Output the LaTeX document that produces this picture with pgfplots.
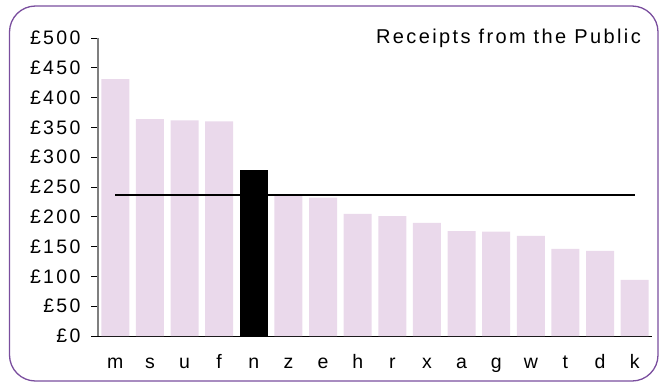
\documentclass[border=0pt]{standalone}
\usepackage{pgfplots}
\pgfplotsset{compat=1.18}
\usepackage{fontspec}
\setmainfont{Liberation Sans}[LetterSpace=12]
\definecolor{barpink}{HTML}{EAD9EB}
\definecolor{framepurple}{HTML}{7A4E9E}
\definecolor{axisgray}{HTML}{7F7F7F}

\begin{document}
\begin{tikzpicture}[x=1bp,y=1bp]
\useasboundingbox (0,0) rectangle (660,383);
\draw[framepurple, line width=1.3bp, rounded corners=26bp] (9.5,2) rectangle (658,377);
\node[anchor=base east, inner sep=0pt, font=\fontsize{20bp}{22bp}\selectfont] at (641,340) {Receipts from the Public};
\begin{axis}[
  at={(98bp,47bp)}, anchor=south west,
  scale only axis, width=554bp, height=298bp,
  xmin=-0.5, xmax=15.5, ymin=0, ymax=500,
  axis x line=bottom, axis y line=left,
  axis line style={-},
  x axis line style={black, line width=1bp},
  y axis line style={axisgray, line width=1.3bp},
  xtick={0,...,15},
  xticklabels={m,s,u,f,n,z,e,h,r,x,a,g,w,t,d,k},
  xtick style={draw=none},
  ytick={0,50,...,500},
  yticklabels={£0,£50,£100,£150,£200,£250,£300,£350,£400,£450,£500},
  ytick style={black, line width=0.8bp},
  tick align=outside, major tick length=7bp,
  tick label style={font=\fontsize{19.5bp}{21bp}\selectfont},
  xticklabel style={text height=1.6ex, text depth=0.3ex, yshift=-14bp},
  yticklabel style={xshift=-7bp},
  clip=false,
]
\addplot[ybar, bar width=0.81, fill=barpink, draw=none] coordinates {
  (0,431) (1,364) (2,362) (3,360) (5,237) (6,232) (7,205) (8,201)
  (9,190) (10,176) (11,175) (12,168) (13,146) (14,143) (15,94)
};
\addplot[ybar, bar width=0.81, fill=black, draw=none] coordinates {(4,278)};
\addplot[black, line width=2bp] coordinates {(0,236) (15,236)};
\end{axis}
\end{tikzpicture}
\end{document}
